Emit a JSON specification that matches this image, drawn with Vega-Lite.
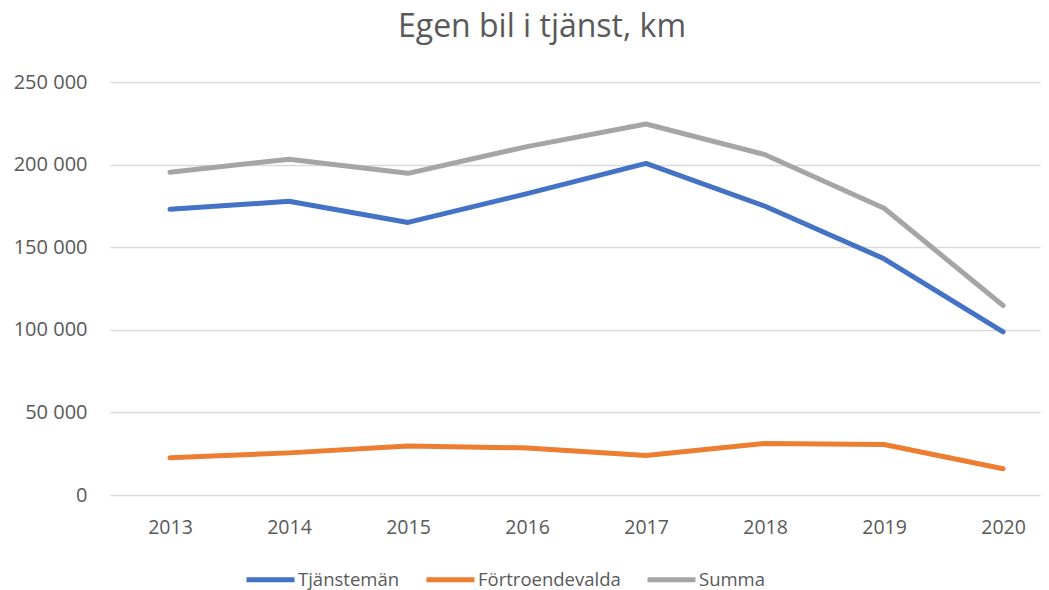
{
  "$schema": "https://vega.github.io/schema/vega-lite/v6.json",
  "width": 930,
  "height": 413,
  "autosize": {"type": "none"},
  "padding": {"left": 110, "top": 82, "right": 9, "bottom": 95},
  "background": "white",
  "config": {"view": {"stroke": null}},
  "title": {
    "text": "Egen bil i tjänst, km",
    "font": "Open Sans",
    "fontSize": 32,
    "fontWeight": 400,
    "color": "#595959",
    "anchor": "middle",
    "dx": -33,
    "offset": 28
  },
  "data": {
    "values": [
      {"year": 2013, "series": "Tjänstemän", "km": 172900},
      {"year": 2014, "series": "Tjänstemän", "km": 177800},
      {"year": 2015, "series": "Tjänstemän", "km": 165000},
      {"year": 2016, "series": "Tjänstemän", "km": 182400},
      {"year": 2017, "series": "Tjänstemän", "km": 200700},
      {"year": 2018, "series": "Tjänstemän", "km": 174800},
      {"year": 2019, "series": "Tjänstemän", "km": 143000},
      {"year": 2020, "series": "Tjänstemän", "km": 98800},
      {"year": 2013, "series": "Förtroendevalda", "km": 22500},
      {"year": 2014, "series": "Förtroendevalda", "km": 25500},
      {"year": 2015, "series": "Förtroendevalda", "km": 29700},
      {"year": 2016, "series": "Förtroendevalda", "km": 28500},
      {"year": 2017, "series": "Förtroendevalda", "km": 23900},
      {"year": 2018, "series": "Förtroendevalda", "km": 31200},
      {"year": 2019, "series": "Förtroendevalda", "km": 30600},
      {"year": 2020, "series": "Förtroendevalda", "km": 15900},
      {"year": 2013, "series": "Summa", "km": 195400},
      {"year": 2014, "series": "Summa", "km": 203300},
      {"year": 2015, "series": "Summa", "km": 194700},
      {"year": 2016, "series": "Summa", "km": 210900},
      {"year": 2017, "series": "Summa", "km": 224600},
      {"year": 2018, "series": "Summa", "km": 206000},
      {"year": 2019, "series": "Summa", "km": 173600},
      {"year": 2020, "series": "Summa", "km": 114700}
    ]
  },
  "mark": {"type": "line", "strokeWidth": 5, "strokeCap": "round", "strokeJoin": "round"},
  "encoding": {
    "x": {
      "field": "year",
      "type": "quantitative",
      "scale": {"domain": [2012.496, 2020.31], "nice": false, "zero": false},
      "axis": {
        "title": null,
        "values": [2013, 2014, 2015, 2016, 2017, 2018, 2019, 2020],
        "format": "d",
        "grid": false,
        "ticks": false,
        "domain": false,
        "labelFont": "Open Sans",
        "labelFontSize": 19.5,
        "labelColor": "#595959",
        "labelPadding": 23
      }
    },
    "y": {
      "field": "km",
      "type": "quantitative",
      "scale": {"domain": [0, 250000], "nice": false},
      "axis": {
        "title": null,
        "values": [0, 50000, 100000, 150000, 200000, 250000],
        "labelExpr": "replace(format(datum.value, ','), ',', ' ')",
        "ticks": false,
        "domain": false,
        "grid": true,
        "gridColor": "#D9D9D9",
        "gridWidth": 1.5,
        "labelFont": "Open Sans",
        "labelFontSize": 20,
        "labelColor": "#595959",
        "labelPadding": 23
      }
    },
    "color": {
      "field": "series",
      "type": "nominal",
      "scale": {
        "domain": ["Tjänstemän", "Förtroendevalda", "Summa"],
        "range": ["#4472C4", "#ED7D31", "#A5A5A5"]
      },
      "legend": {
        "title": null,
        "orient": "none",
        "legendX": 134,
        "legendY": 471,
        "direction": "horizontal",
        "symbolType": "stroke",
        "symbolSize": 2304,
        "symbolStrokeWidth": 5,
        "labelFont": "Open Sans",
        "labelFontSize": 18.5,
        "labelColor": "#595959",
        "labelOffset": 1,
        "columnPadding": 16
      }
    }
  }
}
